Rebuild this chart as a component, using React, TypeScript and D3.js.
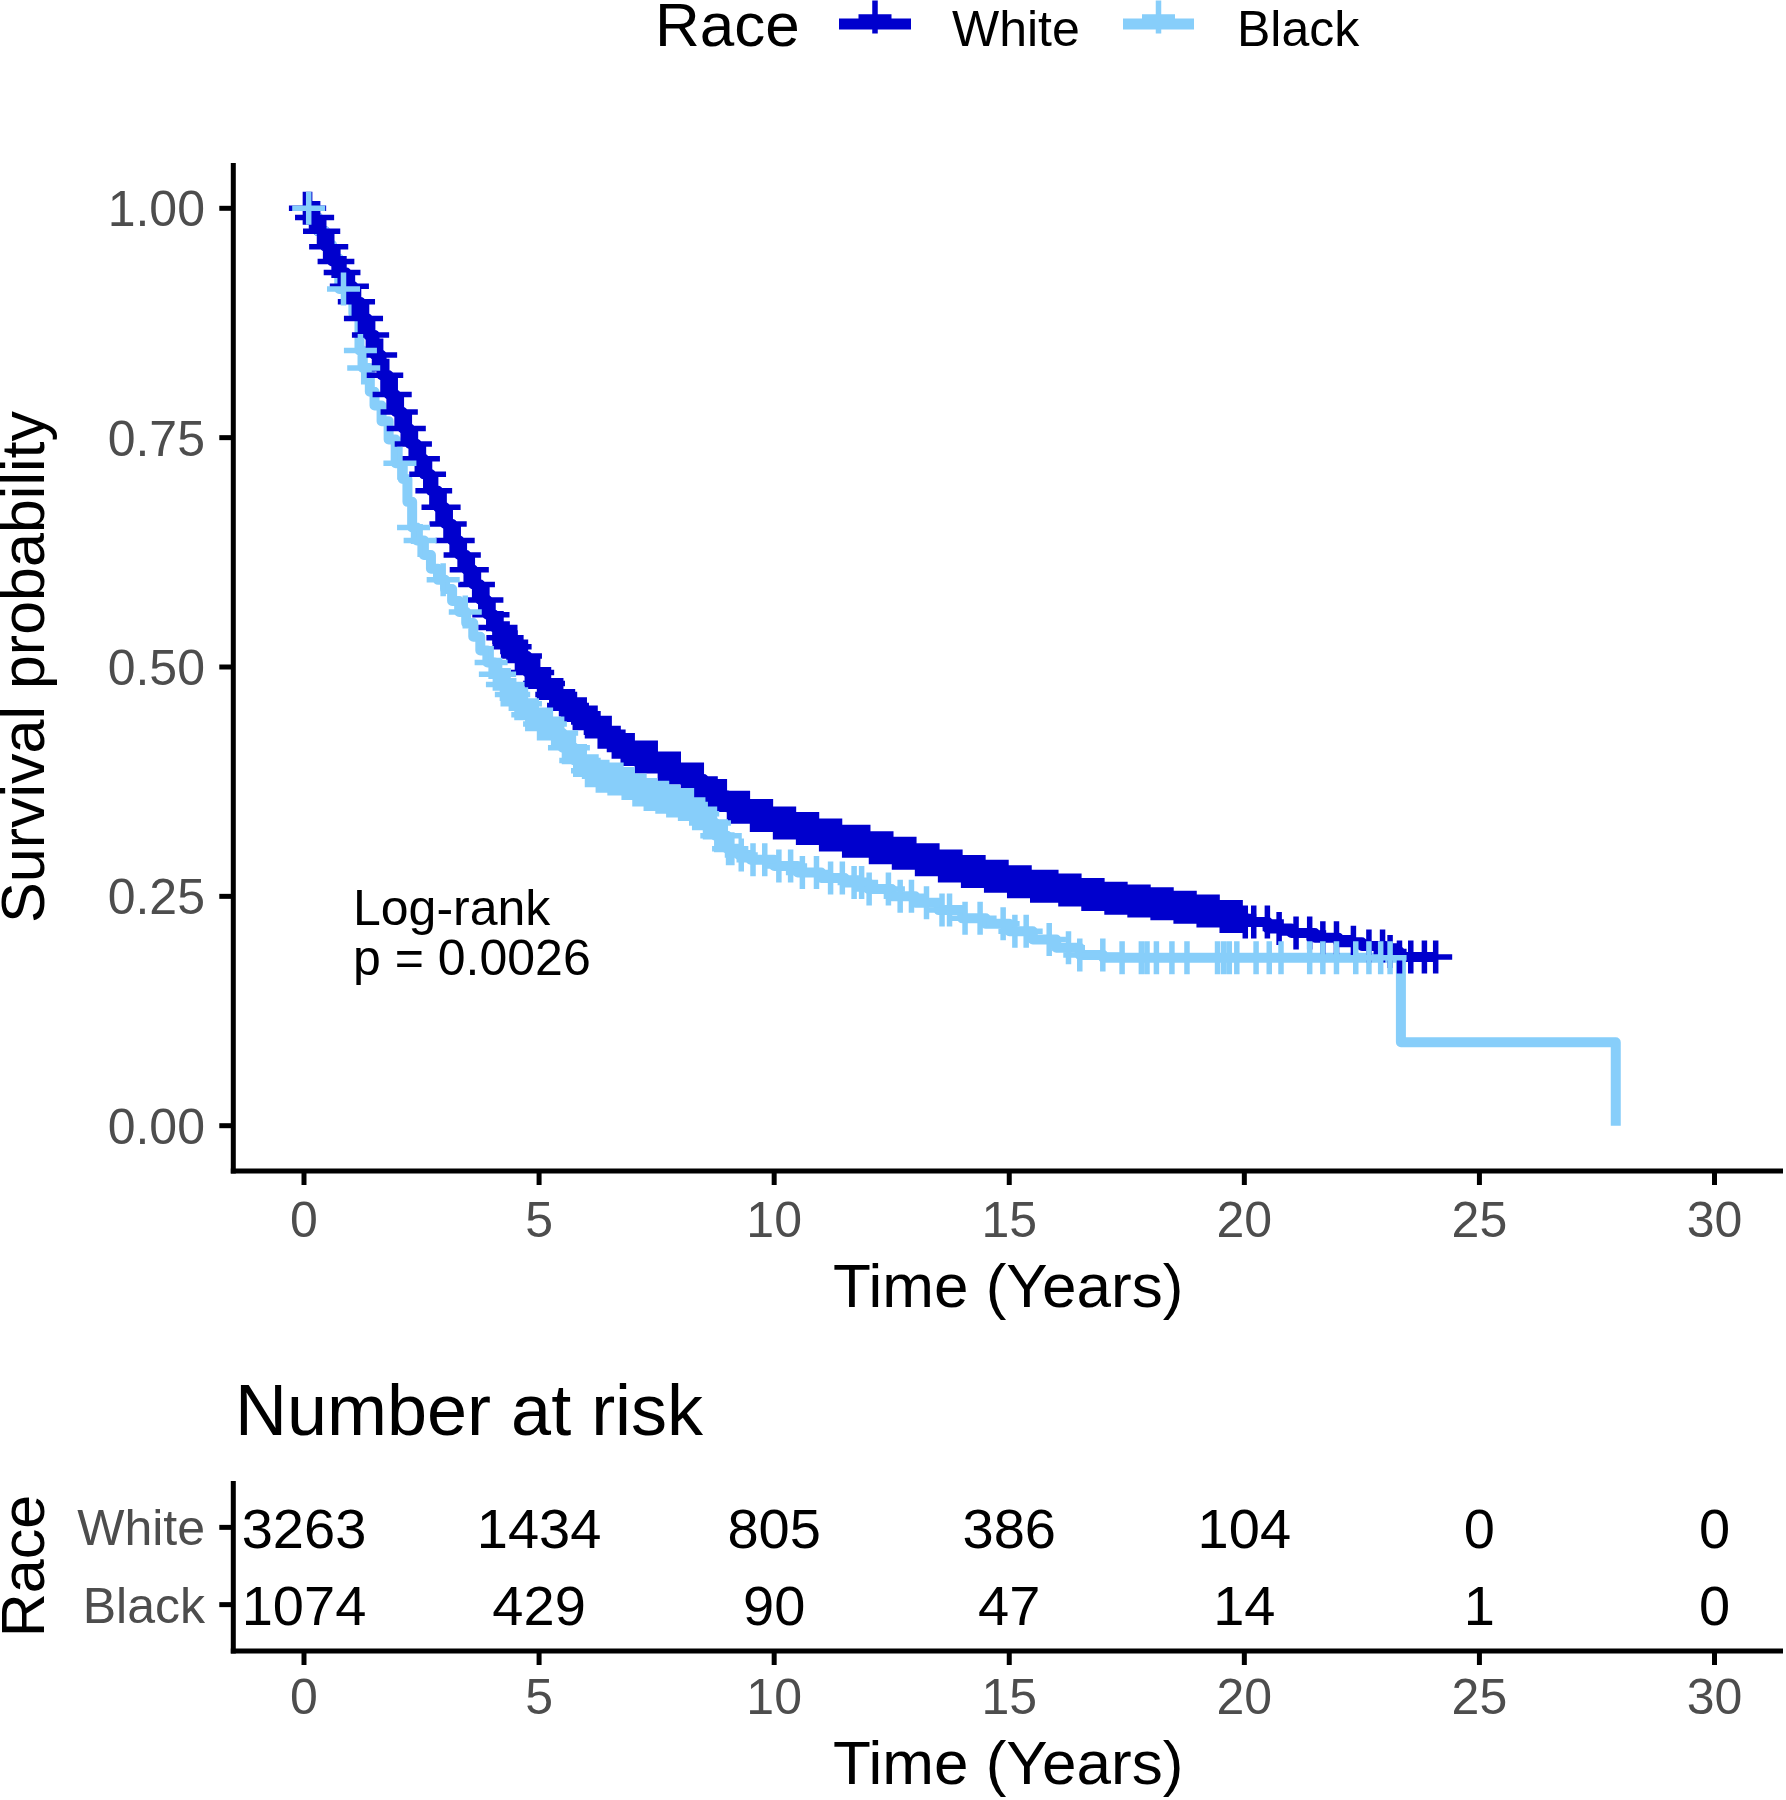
import React, { useEffect } from 'react';
import * as d3 from 'd3';

// ---------- data ----------
const strata = ['White', 'Black'];
const strataColors = ['#0000CD', '#87CEFA'];

const whiteTime = [0, 0.15, 0.3, 0.45, 0.6, 0.75, 0.9, 1.05, 1.2, 1.35, 1.5, 1.65, 1.8, 1.95, 2.1, 2.25, 2.4, 2.55, 2.7, 2.85, 3.0, 3.15, 3.3, 3.45, 3.6, 3.75, 3.9, 4.05, 4.2, 4.35, 4.5, 4.75, 5.0, 5.25, 5.5, 5.75, 6.0, 6.25, 6.5, 6.75, 7.0, 7.5, 8.0, 8.5, 9.0, 9.5, 10.0, 10.5, 11.0, 11.5, 12.0, 12.5, 13.0, 13.5, 14.0, 14.5, 15.0, 15.5, 16.0, 16.5, 17.0, 17.5, 18.0, 18.5, 19.0, 19.5, 20.0, 20.5, 21.0, 21.5, 22.0, 22.5, 23.0, 23.3, 24.07];
const whiteSurv = [1, 0.99, 0.975, 0.958, 0.942, 0.93, 0.915, 0.898, 0.88, 0.862, 0.84, 0.818, 0.797, 0.778, 0.76, 0.743, 0.727, 0.71, 0.692, 0.674, 0.656, 0.638, 0.622, 0.606, 0.59, 0.573, 0.557, 0.543, 0.532, 0.522, 0.512, 0.494, 0.482, 0.47, 0.458, 0.449, 0.44, 0.429, 0.418, 0.41, 0.402, 0.39, 0.378, 0.36, 0.347, 0.338, 0.33, 0.324, 0.317, 0.31, 0.303, 0.297, 0.29, 0.283, 0.277, 0.272, 0.266, 0.261, 0.257, 0.252, 0.248, 0.245, 0.242, 0.238, 0.234, 0.228, 0.222, 0.215, 0.21, 0.205, 0.2, 0.196, 0.19, 0.184, 0.184];

const blackTime = [0, 0.15, 0.3, 0.45, 0.6, 0.75, 0.9, 1.05, 1.18, 1.25, 1.4, 1.5, 1.65, 1.8, 1.95, 2.1, 2.2, 2.3, 2.4, 2.55, 2.7, 2.85, 3.0, 3.15, 3.3, 3.45, 3.6, 3.75, 3.9, 4.05, 4.2, 4.35, 4.5, 4.75, 5.0, 5.25, 5.5, 5.75, 6.0, 6.25, 6.5, 6.75, 7.0, 7.25, 7.5, 7.75, 8.0, 8.25, 8.5, 8.75, 9.0, 9.25, 9.5, 10.0, 10.5, 11.0, 11.5, 12.0, 12.5, 13.0, 13.5, 14.0, 14.5, 15.0, 15.5, 16.0, 16.5, 17.0, 23.33, 27.9];
const blackSurv = [1, 0.99, 0.975, 0.96, 0.945, 0.912, 0.902, 0.885, 0.845, 0.826, 0.8, 0.785, 0.768, 0.748, 0.722, 0.705, 0.68, 0.652, 0.638, 0.622, 0.607, 0.595, 0.585, 0.572, 0.56, 0.548, 0.533, 0.518, 0.505, 0.492, 0.481, 0.47, 0.46, 0.448, 0.438, 0.428, 0.412, 0.398, 0.387, 0.381, 0.378, 0.373, 0.366, 0.361, 0.358, 0.354, 0.35, 0.34, 0.33, 0.316, 0.302, 0.295, 0.29, 0.283, 0.276, 0.27, 0.265, 0.258, 0.25, 0.243, 0.235, 0.226, 0.22, 0.212, 0.203, 0.194, 0.186, 0.183, 0.091, 0];

const whiteCensor = [0.03, 0.07, 0.12, 0.16, 0.2, 0.25, 0.29, 0.33, 0.38, 0.42, 0.46, 0.51, 0.55, 0.59, 0.64, 0.68, 0.72, 0.77, 0.81, 0.85, 0.9, 0.94, 0.98, 1.03, 1.07, 1.11, 1.16, 1.2, 1.24, 1.29, 1.33, 1.37, 1.42, 1.46, 1.5, 1.55, 1.59, 1.63, 1.68, 1.72, 1.76, 1.81, 1.85, 1.89, 1.94, 1.98, 2.02, 2.07, 2.11, 2.15, 2.2, 2.24, 2.28, 2.33, 2.37, 2.41, 2.46, 2.5, 2.54, 2.59, 2.63, 2.67, 2.72, 2.76, 2.8, 2.85, 2.89, 2.93, 2.98, 3.02, 3.06, 3.11, 3.15, 3.19, 3.24, 3.28, 3.32, 3.37, 3.41, 3.45, 3.5, 3.54, 3.58, 3.63, 3.67, 3.71, 3.76, 3.8, 3.84, 3.89, 3.93, 3.97, 4.02, 4.06, 4.1, 4.15, 4.19, 4.23, 4.28, 4.32, 4.36, 4.41, 4.45, 4.49, 4.54, 4.58, 4.62, 4.67, 4.71, 4.75, 4.8, 4.84, 4.88, 4.93, 4.97, 5.01, 5.08, 5.14, 5.2, 5.27, 5.33, 5.39, 5.46, 5.52, 5.58, 5.65, 5.71, 5.77, 5.84, 5.9, 5.96, 6.03, 6.1, 6.19, 6.3, 6.38, 6.49, 6.6, 6.68, 6.79, 6.87, 6.98, 7.09, 7.17, 7.28, 7.37, 7.47, 7.58, 7.66, 7.77, 7.86, 7.96, 8.07, 8.15, 8.26, 8.35, 8.45, 8.56, 8.64, 8.75, 8.84, 8.94, 9.05, 9.13, 9.24, 9.33, 9.43, 9.54, 9.62, 9.73, 9.82, 9.92, 10.03, 10.11, 10.22, 10.31, 10.41, 10.52, 10.6, 10.71, 10.8, 10.9, 11.01, 11.09, 11.2, 11.29, 11.39, 11.5, 11.58, 11.69, 11.78, 11.88, 11.99, 12.07, 12.18, 12.27, 12.37, 12.48, 12.56, 12.67, 12.76, 12.86, 12.97, 13.05, 13.16, 13.25, 13.35, 13.46, 13.54, 13.65, 13.74, 13.84, 13.95, 14.03, 14.14, 14.23, 14.33, 14.44, 14.52, 14.63, 14.72, 14.82, 14.93, 15.01, 15.12, 15.21, 15.31, 15.42, 15.5, 15.61, 15.7, 15.8, 15.91, 15.99, 16.1, 16.19, 16.29, 16.4, 16.48, 16.59, 16.68, 16.78, 16.89, 16.97, 17.08, 17.17, 17.27, 17.38, 17.46, 17.57, 17.66, 17.76, 17.87, 17.95, 18.06, 18.15, 18.25, 18.36, 18.44, 18.55, 18.64, 18.74, 18.85, 18.93, 19.04, 19.13, 19.23, 19.34, 19.42, 19.53, 19.62, 19.72, 19.83, 19.91, 20.02, 20.2, 20.49, 20.74, 21.1, 21.39, 21.67, 21.96, 22.32, 22.65, 22.94, 23.1, 23.3, 23.54, 23.83, 24.07];

const blackCensor = [0.1, 0.84, 1.2, 1.27, 2.04, 2.33, 2.47, 2.96, 3.43, 3.98, 4.07, 4.16, 4.22, 4.29, 4.34, 4.41, 4.46, 4.53, 4.58, 4.64, 4.71, 4.76, 4.83, 4.88, 4.94, 5.01, 5.06, 5.13, 5.18, 5.24, 5.31, 5.36, 5.43, 5.48, 5.54, 5.61, 5.66, 5.73, 5.78, 5.84, 5.91, 5.96, 6.03, 6.08, 6.14, 6.21, 6.26, 6.33, 6.38, 6.44, 6.51, 6.56, 6.63, 6.68, 6.74, 6.81, 6.86, 6.93, 6.98, 7.04, 7.11, 7.16, 7.23, 7.28, 7.34, 7.41, 7.46, 7.53, 7.58, 7.64, 7.71, 7.76, 7.83, 7.88, 7.94, 8.01, 8.06, 8.13, 8.18, 8.24, 8.31, 8.36, 8.43, 8.48, 8.54, 8.61, 8.66, 8.73, 8.78, 8.84, 8.91, 8.96, 9.03, 9.1, 9.3, 9.55, 9.8, 10.1, 10.35, 10.6, 10.9, 11.2, 11.45, 11.7, 11.86, 12.02, 12.43, 12.68, 12.92, 13.24, 13.57, 13.73, 14.06, 14.38, 14.87, 15.12, 15.36, 15.85, 16.26, 16.5, 16.99, 17.4, 17.81, 17.93, 18.13, 18.46, 18.78, 19.43, 19.56, 19.68, 19.84, 20.25, 20.53, 20.78, 21.39, 21.67, 21.96, 22.37, 22.65, 22.9, 23.1];

const timeTicks = [0, 5, 10, 15, 20, 25, 30];
const survTicks = [0, 0.25, 0.5, 0.75, 1];
const survTickLabels = ['0.00', '0.25', '0.50', '0.75', '1.00'];
const riskWhite = [3263, 1434, 805, 386, 104, 0, 0];
const riskBlack = [1074, 429, 90, 47, 14, 1, 0];
const pValueLines = ['Log-rank', 'p = 0.0026'];

// ---------- helpers ----------
const FONT = "'Liberation Sans', Arial, Helvetica, sans-serif";
const GREY = '#4D4D4D';

function survAt(times: number[], surv: number[], t: number) {
  const i = d3.bisectRight(times, t) - 1;
  return surv[Math.max(0, i)];
}

function crossPath(cx: number, cy: number, h: number) {
  return `M${cx - h},${cy}H${cx + h}M${cx},${cy - h}V${cy + h}`;
}

export default function App() {
  useEffect(() => {
    document.body.style.margin = '0';
  }, []);

  const W = 1786, H = 1800;
  const x = d3.scaleLinear().domain([0, 30]).range([304, 1714.5]);
  const y = d3.scaleLinear().domain([0, 1]).range([1125.7, 208.3]);
  const axL = 233.3, axR = 1783, axTop = 163, axBot = 1171;

  const riskTop = 1481, riskBot = 1651;
  const yRisk = d3.scalePoint<string>().domain(strata).range([riskTop, riskBot]).padding(0.6);

  const stepLine = d3
    .line<[number, number]>()
    .x((d) => x(d[0]))
    .y((d) => y(d[1]))
    .curve(d3.curveStepAfter);

  const series = [
    { name: 'White', times: whiteTime, surv: whiteSurv, censor: whiteCensor, color: strataColors[0] },
    { name: 'Black', times: blackTime, surv: blackSurv, censor: blackCensor, color: strataColors[1] },
  ];

  const lineW = 10;
  const crossH = 16.5;
  const crossW = 5.5;

  const legendItems = [
    { label: 'White', color: strataColors[0], lx0: 839, lx1: 911, tx: 952 },
    { label: 'Black', color: strataColors[1], lx0: 1123, lx1: 1194, tx: 1237 },
  ];

  const riskRows = [
    { name: 'White', values: riskWhite },
    { name: 'Black', values: riskBlack },
  ];

  return (
    <svg
      width={W}
      height={H}
      viewBox={`0 0 ${W} ${H}`}
      style={{ position: 'absolute', left: 0, top: 0, background: '#fff' }}
      fontFamily={FONT}
    >
      <rect x={0} y={0} width={W} height={H} fill="#fff" />

      {/* legend */}
      <text x={655} y={46} fontSize={62} fill="#000">Race</text>
      {legendItems.map((it) => (
        <g key={it.label}>
          <line x1={it.lx0} x2={it.lx1} y1={24} y2={24} stroke={it.color} strokeWidth={11} />
          <path d={crossPath((it.lx0 + it.lx1) / 2, 17, crossH)} stroke={it.color} strokeWidth={crossW} fill="none" />
          <text x={it.tx} y={46} fontSize={50} fill="#000">{it.label}</text>
        </g>
      ))}

      {/* curves */}
      {series.map((s) => (
        <path
          key={'l' + s.name}
          d={stepLine(s.times.map((t, i) => [t, s.surv[i]] as [number, number])) || ''}
          fill="none"
          stroke={s.color}
          strokeWidth={lineW}
          strokeLinejoin="round"
        />
      ))}
      {series.map((s) => (
        <path
          key={'c' + s.name}
          d={s.censor.map((t) => crossPath(x(t), y(survAt(s.times, s.surv, t)), crossH)).join('')}
          fill="none"
          stroke={s.color}
          strokeWidth={crossW}
        />
      ))}

      {/* p-value */}
      {pValueLines.map((l, i) => (
        <text key={l} x={353} y={925 + i * 50} fontSize={50} fill="#000">{l}</text>
      ))}

      {/* main axes */}
      <line x1={axL} x2={axL} y1={axTop} y2={axBot + 2.5} stroke="#000" strokeWidth={5} />
      <line x1={axL - 2.5} x2={axR} y1={axBot} y2={axBot} stroke="#000" strokeWidth={5} />
      {survTicks.map((v, i) => (
        <g key={'ys' + v}>
          <line x1={axL - 14} x2={axL} y1={y(v)} y2={y(v)} stroke="#000" strokeWidth={5} />
          <text x={205} y={y(v)} dy="0.36em" textAnchor="end" fontSize={50} fill={GREY}>
            {survTickLabels[i]}
          </text>
        </g>
      ))}
      {timeTicks.map((t) => (
        <g key={'xt' + t}>
          <line x1={x(t)} x2={x(t)} y1={axBot} y2={axBot + 14} stroke="#000" strokeWidth={5} />
          <text x={x(t)} y={1237} textAnchor="middle" fontSize={50} fill={GREY}>{t}</text>
        </g>
      ))}
      <text x={(axL + axR) / 2} y={1307} textAnchor="middle" fontSize={62} fill="#000">Time (Years)</text>
      <text
        transform={`translate(44,${(axTop + axBot) / 2}) rotate(-90)`}
        textAnchor="middle"
        fontSize={61}
        fill="#000"
      >
        Survival probability
      </text>

      {/* risk table */}
      <text x={235} y={1435} fontSize={72} fill="#000">Number at risk</text>
      <line x1={axL} x2={axL} y1={riskTop} y2={riskBot + 2.5} stroke="#000" strokeWidth={5} />
      <line x1={axL - 2.5} x2={axR} y1={riskBot} y2={riskBot} stroke="#000" strokeWidth={5} />
      {riskRows.map((r) => (
        <g key={'rr' + r.name}>
          <line x1={axL - 14} x2={axL} y1={yRisk(r.name)!} y2={yRisk(r.name)!} stroke="#000" strokeWidth={5} />
          <text x={205} y={yRisk(r.name)!} dy="0.36em" textAnchor="end" fontSize={50} fill={GREY}>
            {r.name}
          </text>
          {r.values.map((v, i) => (
            <text
              key={i}
              x={x(timeTicks[i])}
              y={yRisk(r.name)!}
              dy="0.36em"
              textAnchor="middle"
              fontSize={56}
              fill="#000"
            >
              {v}
            </text>
          ))}
        </g>
      ))}
      {timeTicks.map((t) => (
        <g key={'rx' + t}>
          <line x1={x(t)} x2={x(t)} y1={riskBot} y2={riskBot + 14} stroke="#000" strokeWidth={5} />
          <text x={x(t)} y={1714} textAnchor="middle" fontSize={50} fill={GREY}>{t}</text>
        </g>
      ))}
      <text x={(axL + axR) / 2} y={1784} textAnchor="middle" fontSize={62} fill="#000">Time (Years)</text>
      <text
        transform={`translate(44,${(riskTop + riskBot) / 2}) rotate(-90)`}
        textAnchor="middle"
        fontSize={61}
        fill="#000"
      >
        Race
      </text>
    </svg>
  );
}
